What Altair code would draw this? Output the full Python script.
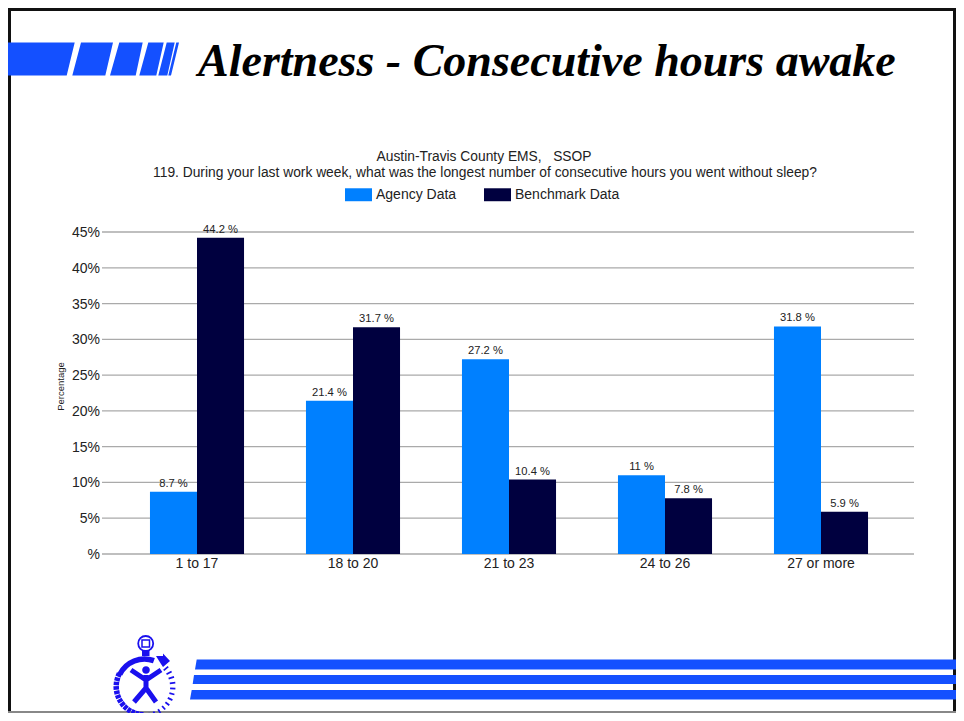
import math
import altair as alt
import pandas as pd

categories = ["1 to 17", "18 to 20", "21 to 23", "24 to 26", "27 or more"]
agency = [8.7, 21.4, 27.2, 11, 31.8]
benchmark = [44.2, 31.7, 10.4, 7.8, 5.9]
series = ["Agency Data", "Benchmark Data"]
colors = ["#0080ff", "#00003f"]
y_ticks = [0, 5, 10, 15, 20, 25, 30, 35, 40, 45]

slide_title = "Alertness - Consecutive hours awake"
title_1 = "Austin-Travis County EMS,\u00a0\u00a0\u00a0SSOP"
title_2 = "119. During your last work week, what was the longest number of consecutive hours you went without sleep?"

OX, OY = 105, 232   # page position of the plot area
W, H = 809, 322
BLUE = "#1450ff"
LOGO = "#1a10ee"

rows = []
for i, c in enumerate(categories):
    rows.append({"cat": c, "series": series[0], "v": agency[i], "lab": f"{agency[i]:g} %"})
    rows.append({"cat": c, "series": series[1], "v": benchmark[i], "lab": f"{benchmark[i]:g} %"})
df = pd.DataFrame(rows)

x_scale = alt.Scale(domain=categories, range=[14, 794], paddingInner=0.397, paddingOuter=0.1985)
xo_scale = alt.Scale(domain=series, paddingInner=0, paddingOuter=0)
y_scale = alt.Scale(domain=[0, 45], nice=False)

# The numeric axis carries only its title: tick marks and labels are drawn from y_ticks below.
y_axis = alt.Axis(values=y_ticks, labels=False, ticks=False,
                  grid=False, domain=False,
                  titleFont="Liberation Sans", titleFontSize=9.5, titleFontWeight="normal",
                  titleColor="#222222", titleX=-40, titleY=154)

tick_df = pd.DataFrame({"t": y_ticks, "lab": ["%" if t == 0 else f"{t}%" for t in y_ticks]})

base = alt.Chart(df)
bars = base.mark_bar(stroke=None).encode(
    x=alt.X("cat:N", scale=x_scale, sort=categories, title=None,
            axis=alt.Axis(labelAngle=0, ticks=False, domain=False, labelFontSize=14,
                          labelFont="Liberation Sans", labelColor="#222222", labelPadding=2)),
    xOffset=alt.XOffset("series:N", scale=xo_scale, sort=series),
    y=alt.Y("v:Q", scale=y_scale, title="Percentage", axis=y_axis),
    color=alt.Color("series:N", sort=series, scale=alt.Scale(domain=series, range=colors),
                    legend=alt.Legend(orient="none", legendX=240, legendY=-51, direction="horizontal",
                                      title=None, columns=2, symbolType="M-1,-0.48H1V0.48H-1Z",
                                      symbolSize=729, symbolStrokeWidth=0, symbolOpacity=1,
                                      labelFont="Liberation Sans", labelFontSize=14,
                                      labelColor="#222222", labelOffset=4, columnPadding=27,
                                      padding=0)),
)
labels = base.mark_text(font="Liberation Sans", fontSize=11.2, color="#222222", dy=-8).encode(
    x=alt.X("cat:N", scale=x_scale, sort=categories),
    xOffset=alt.XOffset("series:N", scale=xo_scale, sort=series),
    y=alt.Y("v:Q", scale=y_scale),
    text="lab:N",
)
grid = alt.Chart(tick_df).mark_rule(color="#aaaaaa", strokeWidth=1.3, clip=False).encode(
    y=alt.Y("t:Q", scale=y_scale, title="Percentage", axis=y_axis), x=alt.value(-3), x2=alt.value(W))
tick_labels = alt.Chart(tick_df).mark_text(
    font="Liberation Sans", fontSize=14, color="#222222", align="right", baseline="middle", clip=False, dy=1,
).encode(y=alt.Y("t:Q", scale=y_scale, title="Percentage", axis=y_axis), x=alt.value(-5), text="lab:N")

one = alt.Data(values=[{"a": 1}])


def shape(path, color, filled=True, sw=0):
    return alt.Chart(one).mark_point(
        shape=path, size=4, filled=filled, fill=color if filled else None,
        stroke=None if filled else color, strokeWidth=sw, opacity=1, clip=False,
    ).encode(x=alt.value(-OX), y=alt.value(-OY))


def poly(pts):
    return "M" + "L".join(f"{x:.1f},{y:.1f}" for x, y in pts) + "Z"


def text_at(t, x, y, **kw):
    return alt.Chart(alt.Data(values=[{"t": t}])).mark_text(**kw).encode(
        x=alt.value(x - OX), y=alt.value(y - OY), text="t:N")


def circle(cx, cy, r):
    return f"M{cx - r},{cy}A{r},{r} 0 1 0 {cx + r},{cy}A{r},{r} 0 1 0 {cx - r},{cy}Z"


# header stripes: (top-left, top-right, bottom-right, bottom-left) x positions
top_segments = [(0, 74.7, 66.7, 0), (81, 113, 105.3, 72.3), (119.3, 142.7, 135.7, 110),
                (148.3, 163.7, 156.3, 139.3), (166.7, 174.7, 167.3, 158.3), (176.3, 179, 171, 168.3)]
top_path = "".join(poly([(a, 42.5), (b, 42.5), (c, 75.5), (d, 75.5)]) for a, b, c, d in top_segments)

# footer stripes
foot_segments = [(659.5, 669.5, 196.7, 195), (675, 684, 194, 192.7), (690, 699.5, 191.7, 190)]
foot_path = "".join(poly([(tl, t), (956, t), (956, b), (bl, b)]) for t, b, tl, bl in foot_segments)

# stopwatch logo
cx, cy = 144.5, 686.5
ticks_thick = ""
for deg in range(186, 300, 9):   # clock angle, bottom to upper left
    a = math.radians(deg)
    s, c = math.sin(a), math.cos(a)
    ticks_thick += f"M{cx + 25.5 * s:.1f},{cy - 25.5 * c:.1f}L{cx + 31 * s:.1f},{cy - 31 * c:.1f}"
ticks_thin = ""
for deg in range(50, 186, 11):    # clock angle, upper right to bottom
    a = math.radians(deg)
    s, c = math.sin(a), math.cos(a)
    r0 = 25 + 2 * (deg - 50) / 136
    w = 31
    ticks_thin += f"M{cx + r0 * s:.1f},{cy - r0 * c:.1f}L{cx + w * s:.1f},{cy - w * c:.1f}"
a0, a1 = math.radians(296), math.radians(20)
arc = (f"M{cx + 27.5 * math.sin(a0):.1f},{cy - 27.5 * math.cos(a0):.1f}"
       f"A27.5,27.5 0 0 1 {cx + 27.5 * math.sin(a1):.1f},{cy - 27.5 * math.cos(a1):.1f}")
arrow = poly([(156, 656), (163, 656), (163, 653.5), (170, 661), (163, 667), (161, 664)])
crown = circle(145.7, 643.5, 7.5)
crown_inner = "M142,640H149.5V647H142Z"
neck = "M142,650H149.5V656H142Z"
person_limbs = "M131,670L146,680L161,670M146,675V690M146,688L134,702M146,688L156,702"
head = circle(146, 670, 3.8)

left_edge = alt.Chart(one).mark_rule(color="#111111", strokeWidth=3, clip=False).encode(
    x=alt.value(9.5 - OX), y=alt.value(8 - OY), y2=alt.value(713 - OY))
right_edge = alt.Chart(one).mark_rule(color="#111111", strokeWidth=3, clip=False).encode(
    x=alt.value(954.5 - OX), y=alt.value(8 - OY), y2=alt.value(713 - OY))
top_edge = alt.Chart(one).mark_rule(color="#111111", strokeWidth=3, clip=False).encode(
    x=alt.value(8 - OX), x2=alt.value(956 - OX), y=alt.value(9.5 - OY))
bottom_edge = alt.Chart(one).mark_rule(color="#888888", strokeWidth=2, clip=False).encode(
    x=alt.value(8 - OX), x2=alt.value(956 - OX), y=alt.value(712 - OY))

layers = [
    left_edge, right_edge, top_edge, bottom_edge,
    shape(top_path, BLUE), shape(foot_path, BLUE),
    shape(crown, LOGO, False, 1.8), shape(crown_inner, LOGO, False, 1.5), shape(neck, LOGO),
    shape(arc, LOGO, False, 5.5), shape(arrow, LOGO),
    shape(ticks_thick, LOGO, False, 3.6), shape(ticks_thin, LOGO, False, 1.8),
    shape(person_limbs, LOGO, False, 5), shape(head, LOGO),
    text_at(slide_title, 198, 76, align="left", baseline="alphabetic", font="Liberation Serif",
            fontStyle="italic", fontWeight="bold", fontSize=46, color="#000000"),
    text_at(title_1, 484, 161, align="center", baseline="alphabetic", font="Liberation Sans",
            fontSize=13.8, color="#222222"),
    text_at(title_2, 485, 177, align="center", baseline="alphabetic", font="Liberation Sans",
            fontSize=13.8, color="#222222"),
    grid, tick_labels, bars, labels,
]

chart = alt.layer(*layers).properties(
    width=W, height=H,
    autosize=alt.AutoSizeParams(type="none", contains="content"),
    padding={"left": OX - 8, "top": OY - 8, "right": 948 - (OX - 8) - W, "bottom": 705 - (OY - 8) - H},
).configure_view(stroke=None)

chart.save("out.html", embed_options={"renderer": "svg", "actions": False})
